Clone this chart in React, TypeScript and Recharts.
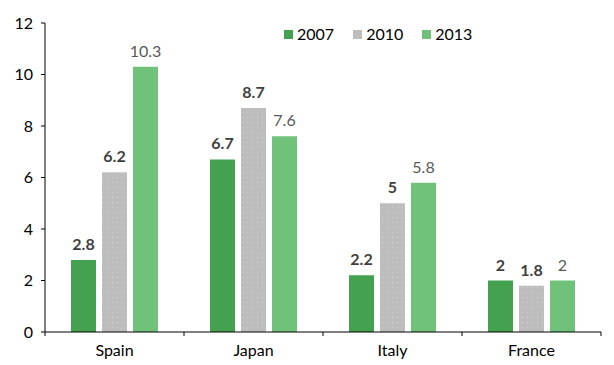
import React from 'react';
import { BarChart, Bar, XAxis, YAxis, LabelList } from 'recharts';

const countries = ['Spain', 'Japan', 'Italy', 'France'];
const v2007 = [2.8, 6.7, 2.2, 2];
const v2010 = [6.2, 8.7, 5, 1.8];
const v2013 = [10.3, 7.6, 5.8, 2];
const yTicks = [0, 2, 4, 6, 8, 10, 12];

const COLORS = { y2007: '#43a150', y2010: '#bdbdbd', y2013: '#70c27b' };
const FONT = 'Lato, "Open Sans", sans-serif';

const data = countries.map((c, i) => ({
  country: c,
  y2007: v2007[i],
  y2010: v2010[i],
  y2013: v2013[i],
}));

// tick lines sit on the category boundaries, not on the centres
const CategoryTick = (props: any) => {
  const { x, y, payload, index, visibleTicksCount } = props;
  const half = payload.offset ?? 69.4;
  const last = index === (visibleTicksCount ?? countries.length) - 1;
  return (
    <g>
      <line x1={x - half} x2={x - half} y1={y - 8} y2={y - 4} stroke="#000" />
      {last && <line x1={x + half} x2={x + half} y1={y - 8} y2={y - 4} stroke="#000" />}
      <text x={x} y={y + 16} textAnchor="middle" fontSize={16} fontFamily={FONT} fill="#000">
        {payload.value}
      </text>
    </g>
  );
};

const LegendBox = () => {
  const items = [
    { key: 'y2007', label: '2007' },
    { key: 'y2010', label: '2010' },
    { key: 'y2013', label: '2013' },
  ];
  return (
    <div
      style={{
        position: 'absolute',
        left: 284,
        top: 24,
        display: 'flex',
        gap: 19,
        fontFamily: FONT,
        fontSize: 16,
        lineHeight: '20px',
        color: '#000',
      }}
    >
      {items.map((it) => (
        <div key={it.key} style={{ display: 'flex', alignItems: 'center' }}>
          <span
            style={{
              width: 9,
              height: 9,
              background: (COLORS as any)[it.key],
              marginRight: 4,
              display: 'inline-block',
            }}
          />
          {it.label}
        </div>
      ))}
    </div>
  );
};

const App: React.FC = () => {
  return (
    <div style={{ position: 'absolute', left: 0, top: 0, width: 614, height: 365, background: '#fff' }}>
      <BarChart
        width={614}
        height={365}
        data={data}
        margin={{ top: 23, right: 13, bottom: 3, left: 0 }}
        barGap={6}
        barSize={25}
      >
        <defs>
          <pattern id="dots" width="5" height="5" patternUnits="userSpaceOnUse">
            <rect width="5" height="5" fill={COLORS.y2010} />
            <rect x="2" y="2" width="1" height="1" fill="#cfcfcf" />
          </pattern>
        </defs>
        <XAxis
          dataKey="country"
          axisLine={{ stroke: '#000' }}
          tickLine={false}
          tick={<CategoryTick />}
          height={30}
          interval={0}
        />
        <YAxis
          domain={[0, 12]}
          ticks={yTicks}
          width={45}
          axisLine={{ stroke: '#000' }}
          tickLine={{ stroke: '#000' }}
          tickSize={4}
          tickMargin={8}
          tick={{ fontSize: 16, fontFamily: FONT, fill: '#000' }}
        />
        <Bar dataKey="y2007" name="2007" fill={COLORS.y2007} isAnimationActive={false}>
          <LabelList
            dataKey="y2007"
            position="top"
            offset={10}
            style={{ fontSize: 16, fontWeight: 700, fontFamily: FONT, fill: '#404040' }}
          />
        </Bar>
        <Bar dataKey="y2010" name="2010" fill="url(#dots)" isAnimationActive={false}>
          <LabelList
            dataKey="y2010"
            position="top"
            offset={10}
            style={{ fontSize: 16, fontWeight: 700, fontFamily: FONT, fill: '#404040' }}
          />
        </Bar>
        <Bar dataKey="y2013" name="2013" fill={COLORS.y2013} isAnimationActive={false}>
          <LabelList
            dataKey="y2013"
            position="top"
            offset={10}
            style={{ fontSize: 16, fontFamily: FONT, fill: '#595959' }}
          />
        </Bar>
      </BarChart>
      <LegendBox />
    </div>
  );
};

export default App;
